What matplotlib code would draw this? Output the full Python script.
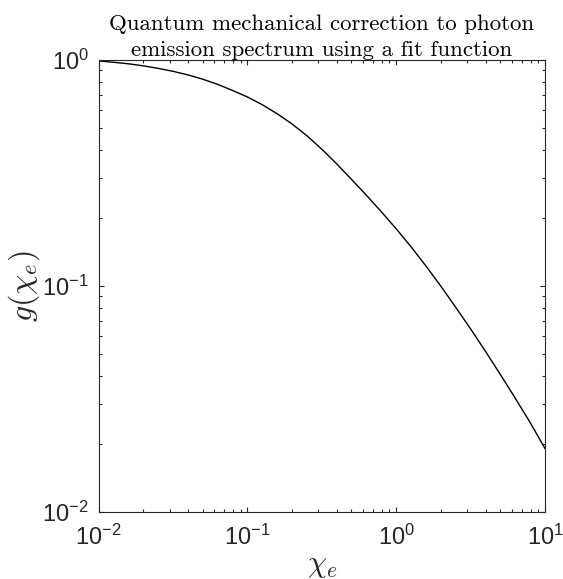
import numpy as np
import matplotlib
matplotlib.use('Agg')
import matplotlib.pyplot as plt
from matplotlib.ticker import LogLocator, NullFormatter

plt.rcParams['font.family'] = ['Liberation Sans', 'DejaVu Sans']
plt.rcParams['mathtext.fontset'] = 'custom'
plt.rcParams['mathtext.rm'] = 'Liberation Sans'
plt.rcParams['mathtext.it'] = 'Liberation Sans:italic'

AXES_COLOR = '#262626'

# g(chi_e) sampled every tenth of a decade along the fitted curve
chi_e = [0.01, 0.01259, 0.01585, 0.01995, 0.02512, 0.03162, 0.03981, 0.05012,
         0.06310, 0.07943, 0.1, 0.1259, 0.1585, 0.1995, 0.2512, 0.3162,
         0.3981, 0.5012, 0.6310, 0.7943, 1.0, 1.259, 1.585, 1.995,
         2.512, 3.162, 3.981, 5.012, 6.310, 7.943, 10.0]
g_chi = [0.991, 0.977, 0.962, 0.942, 0.918, 0.891, 0.859, 0.822,
         0.780, 0.733, 0.686, 0.634, 0.578, 0.521, 0.462, 0.403,
         0.347, 0.296, 0.252, 0.213, 0.179, 0.149, 0.1225, 0.0998,
         0.0805, 0.0646, 0.0514, 0.0406, 0.0319, 0.0249, 0.0191]

x_lim = [1e-2, 1e1]
y_lim = [1e-2, 1e0]

fig = plt.figure(figsize=(5.63, 5.79), dpi=100)
ax = fig.add_axes([0.1753, 0.1157, 0.7927, 0.7807])

ax.loglog(chi_e, g_chi, color='black', linewidth=1.0)
ax.set_xlim(x_lim)
ax.set_ylim(y_lim)

for axis in (ax.xaxis, ax.yaxis):
    axis.set_major_locator(LogLocator(base=10, numticks=10))
    axis.set_minor_locator(LogLocator(base=10, subs=np.arange(2, 10), numticks=10))
    axis.set_minor_formatter(NullFormatter())

ax.tick_params(which='both', direction='in', top=True, right=True,
               color=AXES_COLOR, labelcolor=AXES_COLOR, width=0.8)
ax.tick_params(which='major', length=3.4, labelsize=17)
ax.tick_params(which='minor', length=2.2)
ax.tick_params(axis='x', which='major', pad=9)
ax.tick_params(axis='y', which='major', pad=7)
for spine in ax.spines.values():
    spine.set_color(AXES_COLOR)
    spine.set_linewidth(0.8)

ax.set_title('Quantum mechanical correction to photon\nemission spectrum using a fit function',
             fontfamily='cmr10', fontsize=16.5, color='black', pad=3, linespacing=1.4)
ax.set_xlabel(r'$\chi_e$', math_fontfamily='cm', fontsize=22, color=AXES_COLOR, labelpad=0)
ax.set_ylabel(r'$g(\chi_e)$', math_fontfamily='cm', fontsize=23, color=AXES_COLOR, labelpad=0)

fig.savefig('out.png', dpi=100)
